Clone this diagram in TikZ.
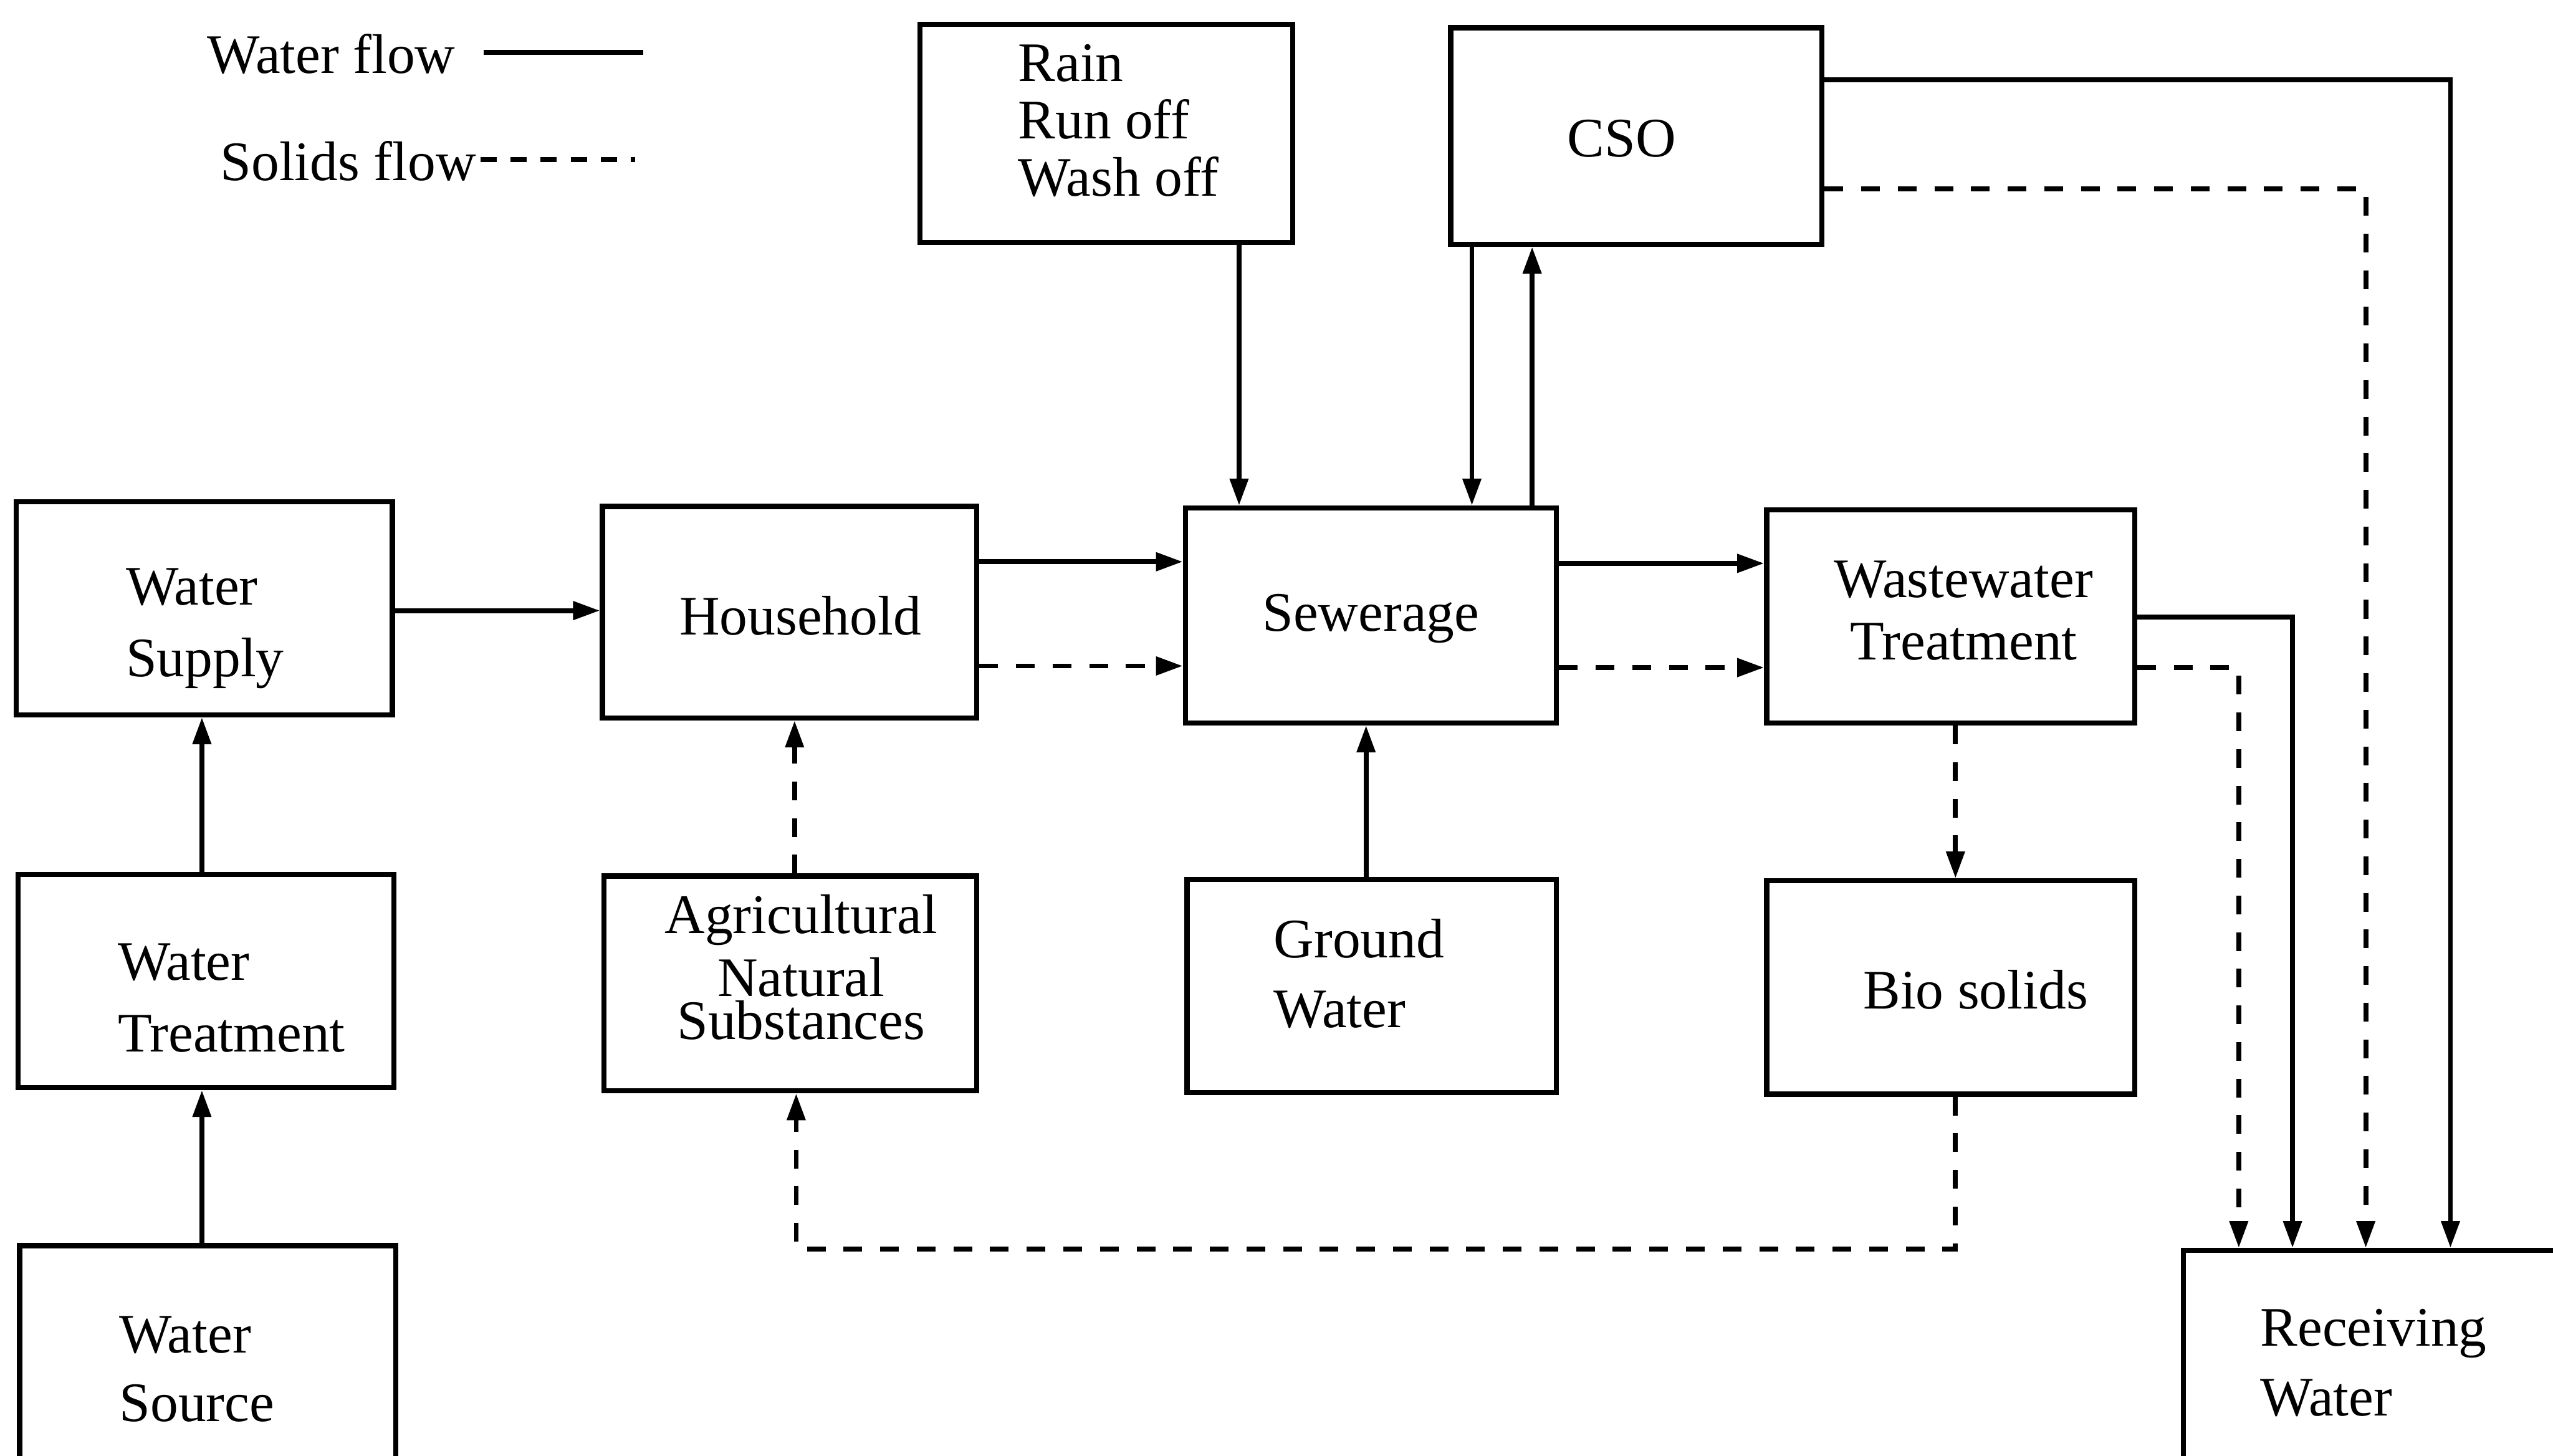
\documentclass[tikz,border=0pt]{standalone}
\usepackage{fontspec}
\setmainfont{Liberation Serif}
\usetikzlibrary{arrows.meta}
\begin{document}
\begin{tikzpicture}[x=0.02cm,y=-0.02cm,
  box/.style={draw, line width=1.8pt, inner sep=0pt},
  txt/.style={inner sep=0pt, font=\fontsize{19.5}{25}\selectfont},
  water/.style={line width=1.7pt, -{Triangle[length=0.33cm,width=0.22cm]}},
  solids/.style={water, dash pattern=on 0.23cm off 0.22cm},
  legw/.style={line width=1.7pt},
  legs/.style={line width=1.7pt, dash pattern=on 0.2cm off 0.17cm},
]
\useasboundingbox (0,0) rectangle (1568,894);

% legend
\node[txt, anchor=west] (lw) at (127,33) {Water flow};
\node[txt, anchor=west] (ls) at (135,99) {Solids flow};
\coordinate (lw1) at (297,32); \coordinate (lw2) at (395,32);
\coordinate (ls1) at (295,98); \coordinate (ls2) at (390,98);
\draw[legw] (lw1) -- (lw2);
\draw[legs] (ls1) -- (ls2);

% boxes
\node[box, minimum width=4.62cm, minimum height=2.62cm] (ws)   at (125.5,373.5) {};
\node[box, minimum width=4.62cm, minimum height=2.62cm] (wt)   at (126.5,602.5) {};
\node[box, minimum width=4.62cm, minimum height=2.62cm] (wsrc) at (127.5,830.5) {};
\node[box, minimum width=4.60cm, minimum height=2.60cm] (hh)   at (485,376) {};
\node[box, minimum width=4.58cm, minimum height=2.64cm] (ag)   at (485.5,604) {};
\node[box, minimum width=4.58cm, minimum height=2.68cm] (rain) at (679.5,82) {};
\node[box, minimum width=4.56cm, minimum height=2.66cm] (cso)  at (1005,83.5) {};
\node[box, minimum width=4.56cm, minimum height=2.64cm] (sew)  at (842,378) {};
\node[box, minimum width=4.54cm, minimum height=2.62cm] (gw)   at (842.5,605.5) {};
\node[box, minimum width=4.52cm, minimum height=2.62cm] (wwt)  at (1198,378.5) {};
\node[box, minimum width=4.52cm, minimum height=2.62cm] (bio)  at (1198,606.5) {};
\node[box, minimum width=4.62cm, minimum height=2.64cm] (rw)   at (1456.5,834) {};

% box texts
\node[txt, anchor=west, align=left] (ws-t) at (77,386) {Water\\Supply};
\node[txt, anchor=west, align=left] (wt-t) at (72,613) {Water\\Treatment};
\node[txt, anchor=west, align=left, font=\fontsize{19.5}{24}\selectfont] (wsrc-t) at (73,841) {Water\\Source};
\node[txt, anchor=west] (hh-t) at (417,378) {Household};
\node[txt, align=center, font=\fontsize{19.5}{22}\selectfont] (ag-t) at (492,594) {Agricultural\\Natural\\[-7pt]Substances};
\node[txt, anchor=west, align=left, font=\fontsize{19.5}{20}\selectfont] (rain-t) at (625,74) {Rain\\Run off\\Wash off};
\node[txt] (cso-t) at (996,85) {CSO};
\node[txt, anchor=west] (sew-t) at (775,380) {Sewerage};
\node[txt, anchor=west, align=left, font=\fontsize{19.5}{24.5}\selectfont] (gw-t) at (782,598) {Ground\\Water};
\node[txt, align=center, font=\fontsize{19.5}{22}\selectfont] (wwt-t) at (1206,375) {Wastewater\\Treatment};
\node[txt, anchor=west] (bio-t) at (1144,608) {Bio solids};
\node[txt, anchor=west, align=left, font=\fontsize{19.5}{24.5}\selectfont] (rw-t) at (1388,837) {Receiving\\Water};

% water supply chain
\draw[water] (wsrc.north -| 124,0) -- (wt.south -| 124,0);
\draw[water] (wt.north -| 124,0) -- (ws.south -| 124,0);
\draw[water] (ws.east |- 0,375) -- (hh.west |- 0,375);

% household and inputs to sewerage
\draw[water]  (hh.east |- 0,345) -- (sew.west |- 0,345);
\draw[solids] (hh.east |- 0,409) -- (sew.west |- 0,409);
\draw[solids] (ag.north -| 488,0) -- (hh.south -| 488,0);
\draw[water]  (rain.south -| 761,0) -- (sew.north -| 761,0);
\draw[water]  (gw.north -| 839,0) -- (sew.south -| 839,0);

% sewerage and overflow
\draw[water] (cso.south -| 904,0) -- (sew.north -| 904,0);
\draw[water] (sew.north -| 941,0) -- (cso.south -| 941,0);

% treatment
\draw[water]  (sew.east |- 0,346) -- (wwt.west |- 0,346);
\draw[solids] (sew.east |- 0,410) -- (wwt.west |- 0,410);
\draw[solids] (wwt.south -| 1201,0) -- (bio.north -| 1201,0);
\draw[solids] (bio.south -| 1201,0) -- (1201,767) -| (ag.south -| 489,0);

% discharges to receiving water
\draw[water]  (wwt.east |- 0,379) -| (rw.north -| 1408,0);
\draw[solids] (wwt.east |- 0,410) -| (rw.north -| 1375,0);
\draw[water]  (cso.east |- 0,49)  -| (rw.north -| 1505,0);
\draw[solids] (cso.east |- 0,116) -| (rw.north -| 1453,0);
\end{tikzpicture}
\end{document}
